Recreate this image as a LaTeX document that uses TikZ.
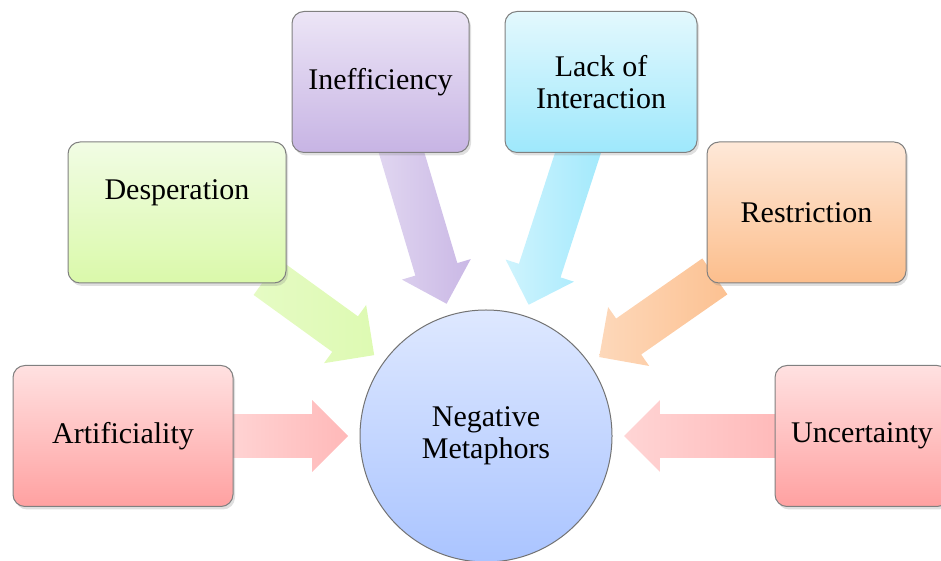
\documentclass[tikz,border=0pt]{standalone}
\usepackage{fontspec}
\setmainfont{Liberation Serif}
\usetikzlibrary{calc,shapes.arrows,shadows}
\pgfdeclarelayer{background}
\pgfsetlayers{background,main}
\definecolor{redtop}{RGB}{255,225,225}
\definecolor{redbot}{RGB}{255,161,161}
\definecolor{greentop}{RGB}{241,252,228}
\definecolor{greenbot}{RGB}{218,249,170}
\definecolor{purpletop}{RGB}{236,229,246}
\definecolor{purplebot}{RGB}{199,180,228}
\definecolor{cyantop}{RGB}{227,248,253}
\definecolor{cyanbot}{RGB}{158,232,252}
\definecolor{orangetop}{RGB}{254,232,216}
\definecolor{orangebot}{RGB}{252,190,140}
\definecolor{bluetop}{RGB}{222,232,255}
\definecolor{bluebot}{RGB}{170,196,255}
\tikzset{
    topic/.style 2 args = {draw=black!50, line width=0.5pt, rounded corners=6pt,
        top color=#1, bottom color=#2, minimum height=70.5pt, align=center,
        drop shadow={opacity=0.25, shadow xshift=1pt, shadow yshift=-1.5pt}},
    hub/.style = {circle, draw=black!55, line width=0.5pt, minimum size=126pt,
        top color=bluetop, bottom color=bluebot, align=center, inner sep=0pt},
    flow/.style 2 args = {single arrow, single arrow head extend=7pt,
        inner xsep=0pt, inner ysep=10.75pt, outer sep=0pt, anchor=tip,
        left color=#1, right color=#2, draw=none},
}
\newcommand\flowarrow[4]{%
    \path let \p1 = ($(meta)-(#1)$), \n1 = {atan2(\y1,\x1)} in
        node[flow={#3}{#4}, minimum height=#2, rotate=\n1] (#1-arrow)
        at ($(meta)!69pt!(#1)$) {};
}

\begin{document}
\begin{tikzpicture}[x=0.5pt, y=0.5pt, font=\fontsize{15pt}{16pt}\selectfont]
\useasboundingbox (0,0) rectangle (941,561);
\node[hub] (meta) at (486,125) {Negative\\Metaphors};
\node[topic={redtop}{redbot}, minimum width=110pt] (artif) at (123,125) {Artificiality};
\node[topic={greentop}{greenbot}, minimum width=109pt] (desp) at (177,348.5) {\raisebox{6.6pt}[0pt][0pt]{Desperation}};
\node[topic={purpletop}{purplebot}, minimum width=88.5pt] (ineff) at (380.5,479) {Inefficiency};
\node[topic={cyantop}{cyanbot}, minimum width=96pt] (lack) at (601,479) {Lack of\\Interaction};
\node[topic={orangetop}{orangebot}, minimum width=99.5pt] (restr) at (806.5,348.5) {Restriction};
\node[topic={redtop}{redbot}, minimum width=87pt] (uncert) at (862,125) {Uncertainty};
\begin{pgfonlayer}{background}
\flowarrow{artif}{62pt}{redbot!45}{redbot!75}
\flowarrow{desp}{66.5pt}{greenbot!70}{greenbot!90}
\flowarrow{ineff}{83.5pt}{purplebot!55}{purplebot!95}
\flowarrow{lack}{85pt}{cyanbot!50}{cyanbot!95}
\flowarrow{restr}{70.5pt}{orangebot!60}{orangebot!95}
\flowarrow{uncert}{80.5pt}{redbot!45}{redbot!75}
\end{pgfonlayer}
\end{tikzpicture}
\end{document}
